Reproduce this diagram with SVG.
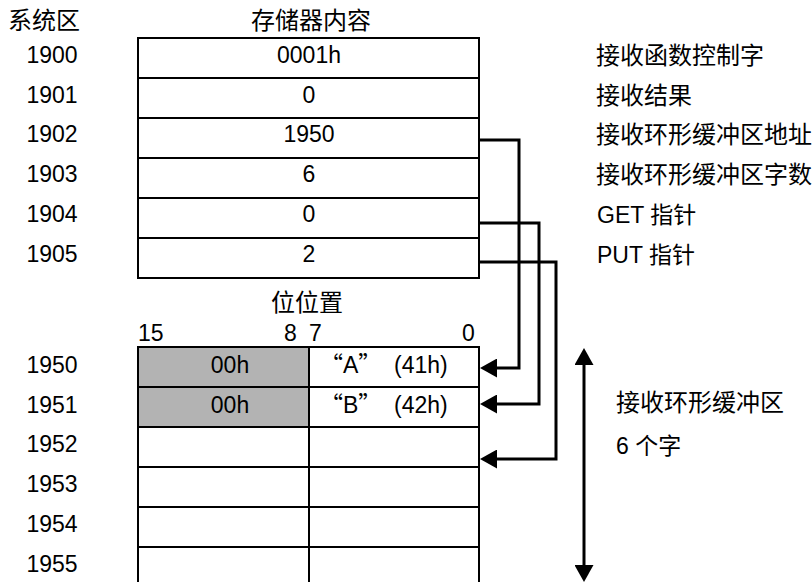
<svg xmlns="http://www.w3.org/2000/svg" width="812" height="582" viewBox="0 0 812 582">
<style>
text{font-family:"Liberation Sans","Noto Sans CJK SC",sans-serif;font-size:23px;fill:#000}
.cjk{font-family:"Noto Sans CJK SC","Liberation Sans",sans-serif;font-size:24px}
.q{font-family:"Noto Sans CJK SC","Liberation Sans",sans-serif}
.m{text-anchor:middle}
.cell{fill:#fff;stroke:#000;stroke-width:2}
.gray{fill:#b3b3b3;stroke:#000;stroke-width:2}
.conn{fill:none;stroke:#000;stroke-width:3}
</style>
<defs>
<marker id="arr" viewBox="0 0 17 19" markerWidth="17" markerHeight="19" refX="7" refY="9.5" orient="auto-start-reverse" markerUnits="userSpaceOnUse">
<path d="M0,0 L17,9.5 L0,19 Z" fill="#000"/>
</marker>
</defs>
<g id="headers">
<text class="cjk" x="8" y="29">系统区</text>
<text class="cjk m" x="311" y="29">存储器内容</text>
<text class="cjk m" x="307" y="311">位位置</text>
<text x="138" y="341">15</text>
<text x="284" y="341">8</text>
<text x="309" y="341">7</text>
<text x="462" y="341">0</text>
</g>
<g id="sys-table">
<g id="r1900"><rect class="cell" x="138" y="38" width="341" height="40"/><text class="m" x="52" y="63">1900</text><text class="m" x="309" y="63">0001h</text><text class="cjk" x="596" y="64">接收函数控制字</text></g>
<g id="r1901"><rect class="cell" x="138" y="78" width="341" height="40"/><text class="m" x="52" y="103">1901</text><text class="m" x="309" y="103">0</text><text class="cjk" x="596" y="104">接收结果</text></g>
<g id="r1902"><rect class="cell" x="138" y="118" width="341" height="40"/><text class="m" x="52" y="142">1902</text><text class="m" x="309" y="142">1950</text><text class="cjk" x="596" y="143">接收环形缓冲区地址</text></g>
<g id="r1903"><rect class="cell" x="138" y="158" width="341" height="40"/><text class="m" x="52" y="182">1903</text><text class="m" x="309" y="182">6</text><text class="cjk" x="596" y="183">接收环形缓冲区字数</text></g>
<g id="r1904"><rect class="cell" x="138" y="198" width="341" height="40"/><text class="m" x="52" y="222">1904</text><text class="m" x="309" y="222">0</text><text x="597" y="223">GET 指针</text></g>
<g id="r1905"><rect class="cell" x="138" y="238" width="341" height="40"/><text class="m" x="52" y="262">1905</text><text class="m" x="309" y="262">2</text><text x="597" y="263">PUT 指针</text></g>
</g>
<g id="buffer-table">
<g id="b1950"><rect class="gray" x="138" y="347" width="171" height="40"/><rect class="cell" x="309" y="347" width="170" height="40"/><text class="m" x="52" y="373">1950</text><text class="m" x="230" y="373">00h</text><text x="320" y="373"><tspan class="q">“</tspan>A<tspan class="q">”</tspan><tspan x="394">(41h)</tspan></text></g>
<g id="b1951"><rect class="gray" x="138" y="387" width="171" height="40"/><rect class="cell" x="309" y="387" width="170" height="40"/><text class="m" x="52" y="413">1951</text><text class="m" x="230" y="413">00h</text><text x="320" y="413"><tspan class="q">“</tspan>B<tspan class="q">”</tspan><tspan x="394">(42h)</tspan></text></g>
<g id="b1952"><rect class="cell" x="138" y="427" width="171" height="40"/><rect class="cell" x="309" y="427" width="170" height="40"/><text class="m" x="52" y="452">1952</text></g>
<g id="b1953"><rect class="cell" x="138" y="467" width="171" height="40"/><rect class="cell" x="309" y="467" width="170" height="40"/><text class="m" x="52" y="492">1953</text></g>
<g id="b1954"><rect class="cell" x="138" y="507" width="171" height="40"/><rect class="cell" x="309" y="507" width="170" height="40"/><text class="m" x="52" y="532">1954</text></g>
<g id="b1955"><rect class="cell" x="138" y="547" width="171" height="42"/><rect class="cell" x="309" y="547" width="170" height="42"/><text class="m" x="52" y="572">1955</text></g>
</g>
<g id="buffer-label">
<text class="cjk" x="616" y="411">接收环形缓冲区</text>
<text x="616" y="454">6 个字</text>
</g>
<g id="connectors">
<path class="conn" d="M479,140 H519 V368 H490" marker-end="url(#arr)"/>
<path class="conn" d="M479,223 H539 V404 H490" marker-end="url(#arr)"/>
<path class="conn" d="M479,262 H556 V459 H490" marker-end="url(#arr)"/>
<path class="conn" d="M584,358 V572" marker-start="url(#arr)" marker-end="url(#arr)"/>
</g>
</svg>
